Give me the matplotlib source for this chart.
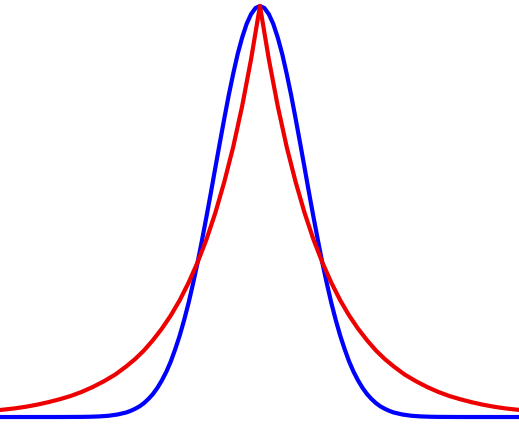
import numpy as np
import matplotlib
matplotlib.use("Agg")
import matplotlib.pyplot as plt

# half curves (x in units from the centre, height relative to the peak)
blue_x_half = [0, 0.1, 0.2, 0.3, 0.4, 0.5, 0.6, 0.7, 0.8, 0.9, 1.0, 1.1, 1.2, 1.3,
               1.4, 1.5, 1.6, 1.7, 1.8, 1.9, 2.0, 2.1, 2.2, 2.3, 2.4, 2.5, 2.6,
               2.7, 2.8, 2.9, 3.0, 3.2, 3.4, 3.6, 3.8, 4.0, 4.5, 5.0, 6.0]
blue_half = [1.0, 0.995, 0.980, 0.956, 0.923, 0.883, 0.835, 0.783, 0.726, 0.667,
             0.607, 0.546, 0.487, 0.430, 0.375, 0.325, 0.278, 0.236, 0.198, 0.165,
             0.135, 0.110, 0.089, 0.071, 0.056, 0.044, 0.034, 0.026, 0.020, 0.015,
             0.011, 0.006, 0.003, 0.0015, 0.0007, 0.0003, 0.0, 0.0, 0.0]

red_x_half = [0, 0.2, 0.4, 0.6, 0.8, 1.0, 1.2, 1.4, 1.6, 1.8, 2.0, 2.2, 2.4,
              2.6, 2.8, 3.0, 3.25, 3.5, 3.75, 4.0, 4.25, 4.5, 4.75, 5.0, 5.25,
              5.5, 5.75, 6.0]
red_half = [1.0, 0.870, 0.756, 0.657, 0.572, 0.497, 0.432, 0.376, 0.327, 0.284,
            0.247, 0.215, 0.187, 0.162, 0.141, 0.123, 0.103, 0.087, 0.073, 0.061,
            0.051, 0.043, 0.036, 0.030, 0.025, 0.021, 0.018, 0.015]


def mirror(xs, ys):
    # both curves are symmetric about the peak
    xs = np.asarray(xs)
    ys = np.asarray(ys)
    return (np.concatenate([-xs[::-1], xs[1:]]),
            np.concatenate([ys[::-1], ys[1:]]))


bx, by = mirror(blue_x_half, blue_half)
rx, ry = mirror(red_x_half, red_half)

fig = plt.figure(figsize=(5.19, 4.24), dpi=100)
ax = fig.add_axes([0, 0, 1, 1])
ax.plot(bx, by, color="#0000ff", lw=3, solid_joinstyle="round")
ax.plot(rx, ry, color="#ee0000", lw=3, solid_joinstyle="round")

ax.set_xlim(-5.83, 5.81)
ax.set_ylim(-0.017, 1.0146)
ax.axis("off")

fig.savefig("out.png", dpi=100)
